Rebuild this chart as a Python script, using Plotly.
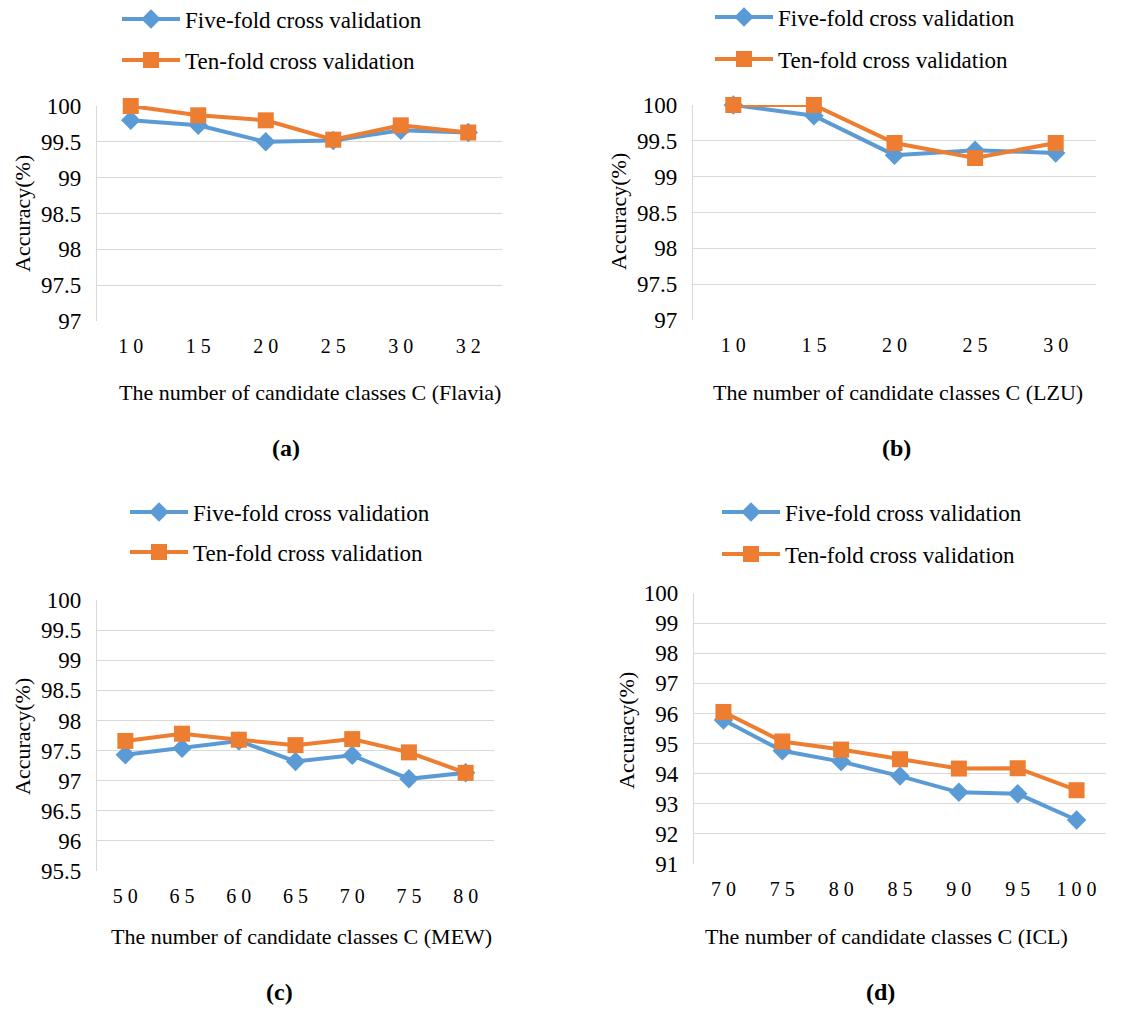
import plotly.graph_objects as go

# ---------------- data ----------------
cat_a = ["10", "15", "20", "25", "30", "32"]
five_a = [99.80, 99.73, 99.50, 99.52, 99.66, 99.63]
ten_a = [100.00, 99.87, 99.80, 99.53, 99.73, 99.63]

cat_b = ["10", "15", "20", "25", "30"]
five_b = [100.00, 99.85, 99.30, 99.37, 99.33]
ten_b = [100.00, 100.00, 99.47, 99.26, 99.47]

cat_c = ["50", "65", "60", "65", "70", "75", "80"]
five_c = [97.43, 97.54, 97.66, 97.32, 97.42, 97.03, 97.13]
ten_c = [97.66, 97.78, 97.68, 97.59, 97.69, 97.47, 97.13]

cat_d = ["70", "75", "80", "85", "90", "95", "100"]
five_d = [95.78, 94.76, 94.40, 93.92, 93.38, 93.33, 92.46]
ten_d = [96.05, 95.07, 94.80, 94.48, 94.17, 94.18, 93.45]

series_names = ["Five-fold cross validation", "Ten-fold cross validation"]
dataset_names = ["Flavia", "LZU", "MEW", "ICL"]
panel_labels = ["(a)", "(b)", "(c)", "(d)"]

# ---------------- style ----------------
W, H = 1137, 1015
FONT = "Liberation Serif, Times New Roman, serif"
BLUE = "#5B9BD5"
ORANGE = "#ED7D31"
GRID = "#D9D9D9"

# panel geometry in pixels: (x0, x1, ytop, ybottom, yrange, dtick)
geom = [
    (97, 502, 106, 321, (97, 100), 0.5),
    (693, 1096, 105, 320, (97, 100), 0.5),
    (97, 494, 600, 871, (95.5, 100), 0.5),
    (694, 1106, 593, 864, (91, 100), 1),
]
# legend positions: (x_line_start, y_first, y_second)
leg_pos = [(125, 19, 60), (718, 17, 59), (133, 512, 552), (725, 512, 554)]
# (x-title center, x-title y, y-title x, y-title y, label x, label y)
txt_pos = [
    (310, 392, 22, 214, 286, 448),
    (898, 392, 618, 212, 896, 448),
    (301, 936, 22, 737, 279, 992),
    (886, 936, 626, 731, 880, 992),
]

cats = [cat_a, cat_b, cat_c, cat_d]
fives = [five_a, five_b, five_c, five_d]
tens = [ten_a, ten_b, ten_c, ten_d]

fig = go.Figure()
layout = dict(
    width=W, height=H,
    margin=dict(l=0, r=0, t=0, b=0, autoexpand=False),
    paper_bgcolor="white", plot_bgcolor="white",
    font=dict(family=FONT, color="black"),
    showlegend=True,
)
annotations = []


def px(x):
    return x / W


def py(y):
    return 1 - y / H


for i in range(4):
    x0, x1, yt, yb, yr, dt = geom[i]
    sfx = "" if i == 0 else str(i + 1)
    xa, ya = "x" + sfx, "y" + sfx
    idx = list(range(len(cats[i])))
    l1 = "legend" if i == 0 else "legend" + str(2 * i + 1)
    l2 = "legend" + str(2 * i + 2)
    fig.add_trace(go.Scatter(
        x=idx, y=fives[i], name=series_names[0], mode="lines+markers",
        line=dict(color=BLUE, width=4),
        marker=dict(symbol="diamond", size=15, color=BLUE),
        xaxis=xa, yaxis=ya, legend=l1, cliponaxis=False))
    fig.add_trace(go.Scatter(
        x=idx, y=tens[i], name=series_names[1], mode="lines+markers",
        line=dict(color=ORANGE, width=4),
        marker=dict(symbol="square", size=16, color=ORANGE),
        xaxis=xa, yaxis=ya, legend=l2, cliponaxis=False))

    layout["xaxis" + sfx] = dict(
        domain=[px(x0), px(x1)], anchor=ya,
        range=[-0.5, len(idx) - 0.5],
        tickmode="array", tickvals=idx,
        ticktext=[" ".join(c) for c in cats[i]],
        tickfont=dict(family=FONT, size=20),
        showgrid=False, zeroline=False, showline=False,
        ticks="", ticklabelstandoff=11, fixedrange=True)
    layout["yaxis" + sfx] = dict(
        domain=[py(yb), py(yt)], anchor=xa,
        range=list(yr), dtick=dt, tick0=yr[0],
        tickfont=dict(family=FONT, size=23),
        showgrid=True, gridcolor=GRID, gridwidth=1.3,
        zeroline=False, showline=True, linecolor=GRID, linewidth=1.3,
        ticks="", ticklabelstandoff=10, fixedrange=True)

    lx, ly1, ly2 = leg_pos[i]
    for lname, ly in [(l1, ly1), (l2, ly2)]:
        layout[lname] = dict(
            x=px(lx - 8), y=py(ly), xanchor="left", yanchor="middle",
            font=dict(family=FONT, size=23), itemwidth=58,
            bgcolor="rgba(0,0,0,0)", borderwidth=0)

    tx, ty, yx, yy, lbx, lby = txt_pos[i]
    annotations.append(dict(
        text="The number of candidate classes C (" + dataset_names[i] + ")",
        x=px(tx), y=py(ty), xref="paper", yref="paper",
        xanchor="center", yanchor="middle", showarrow=False,
        font=dict(family=FONT, size=22)))
    annotations.append(dict(
        text="Accuracy(%)", textangle=-90,
        x=px(yx), y=py(yy), xref="paper", yref="paper",
        xanchor="center", yanchor="middle", showarrow=False,
        font=dict(family=FONT, size=22)))
    annotations.append(dict(
        text="<b>" + panel_labels[i] + "</b>",
        x=px(lbx), y=py(lby), xref="paper", yref="paper",
        xanchor="center", yanchor="middle", showarrow=False,
        font=dict(family=FONT, size=24)))

layout["annotations"] = annotations
fig.update_layout(**layout)
fig.write_html("out.html")
